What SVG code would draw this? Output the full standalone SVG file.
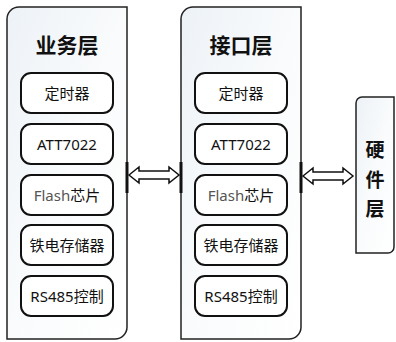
<svg xmlns="http://www.w3.org/2000/svg" width="396" height="342" viewBox="0 0 396 342">
<defs>
<linearGradient id="bg" x1="0" y1="0" x2="1" y2="1">
<stop offset="0" stop-color="#edf2f7"/>
<stop offset="0.5" stop-color="#f9fbfc"/>
<stop offset="1" stop-color="#ffffff"/>
</linearGradient>
<style>
.outer{fill:url(#bg);stroke:#222;stroke-width:1.5}
.inner{fill:#fff;stroke:#111;stroke-width:2}
.title{font-family:"Noto Sans CJK SC","Noto Sans",sans-serif;font-weight:bold;font-size:21px;fill:#111;text-anchor:middle;dominant-baseline:central}
.lbl{font-family:"Noto Sans","Noto Sans CJK SC",sans-serif;font-size:15px;fill:#111;text-anchor:middle;dominant-baseline:central}
.flash{fill:#555}
.arrow{fill:#fff;stroke:#111;stroke-width:1.5;stroke-linejoin:miter}
.edge{stroke:#111;stroke-width:3}
</style>
</defs>
<rect width="396" height="342" fill="#fff"/>
<g id="business">
<path class="outer" d="M7,19 A12,12 0 0 1 19,7 L127,7 L127,327 A12,12 0 0 1 115,339 L7,339 Z"/>
<text class="title" x="67" y="44">业务层</text>
<g id="b1"><rect class="inner" x="21" y="73" width="92" height="40" rx="10"/><text class="lbl" x="67" y="93">定时器</text></g>
<g id="b2"><rect class="inner" x="21" y="124" width="92" height="40" rx="10"/><text class="lbl" x="67" y="144">ATT7022</text></g>
<g id="b3"><rect class="inner" x="21" y="175" width="92" height="40" rx="10"/><text class="lbl" x="67" y="195"><tspan class="flash">Flash</tspan>芯片</text></g>
<g id="b4"><rect class="inner" x="21" y="225" width="92" height="40" rx="10"/><text class="lbl" x="67" y="245">铁电存储器</text></g>
<g id="b5"><rect class="inner" x="21" y="276" width="92" height="40" rx="10"/><text class="lbl" x="67" y="296">RS485控制</text></g>
</g>
<g id="interface">
<path class="outer" d="M181,19 A12,12 0 0 1 193,7 L301,7 L301,327 A12,12 0 0 1 289,339 L181,339 Z"/>
<text class="title" x="241" y="44">接口层</text>
<g id="i1"><rect class="inner" x="195" y="73" width="92" height="40" rx="10"/><text class="lbl" x="241" y="93">定时器</text></g>
<g id="i2"><rect class="inner" x="195" y="124" width="92" height="40" rx="10"/><text class="lbl" x="241" y="144">ATT7022</text></g>
<g id="i3"><rect class="inner" x="195" y="175" width="92" height="40" rx="10"/><text class="lbl" x="241" y="195"><tspan class="flash">Flash</tspan>芯片</text></g>
<g id="i4"><rect class="inner" x="195" y="225" width="92" height="40" rx="10"/><text class="lbl" x="241" y="245">铁电存储器</text></g>
<g id="i5"><rect class="inner" x="195" y="276" width="92" height="40" rx="10"/><text class="lbl" x="241" y="296">RS485控制</text></g>
</g>
<g id="hardware">
<path class="outer" d="M356,103 A6,6 0 0 1 362,97 L394,97 L394,247 A6,6 0 0 1 388,253 L356,253 Z"/>
<text class="title" x="375" y="148" style="font-size:19px">硬</text>
<text class="title" x="375" y="178" style="font-size:19px">件</text>
<text class="title" x="375" y="207" style="font-size:19px">层</text>
</g>
<g id="connectors">
<line class="edge" x1="127" y1="162" x2="127" y2="193"/>
<line class="edge" x1="181" y1="162" x2="181" y2="193"/>
<line class="edge" x1="301" y1="162" x2="301" y2="193"/>
<path class="arrow" d="M129,175 L139,167 L139,171 L169,171 L169,167 L179,175 L169,183 L169,179 L139,179 L139,183 Z"/>
<path class="arrow" d="M303,176 L313,168 L313,172 L343,172 L343,168 L353,176 L343,184 L343,180 L313,180 L313,184 Z"/>
</g>
</svg>
